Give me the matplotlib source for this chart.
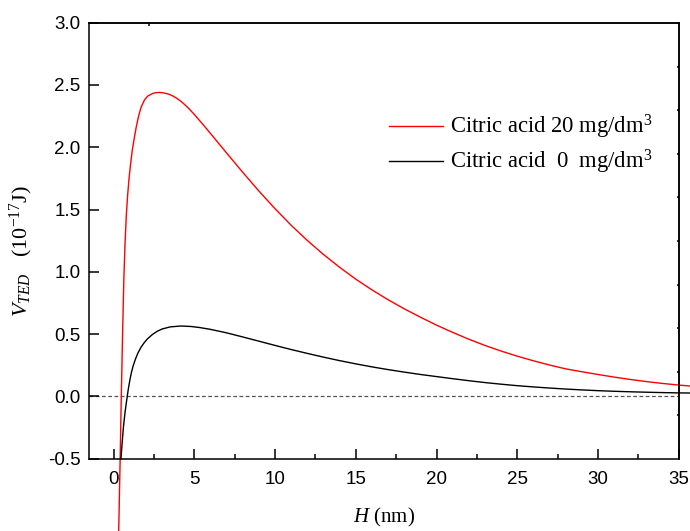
import numpy as np
import matplotlib
matplotlib.use("Agg")
import matplotlib.pyplot as plt
from matplotlib.ticker import MultipleLocator, FormatStrFormatter

plt.rcParams['mathtext.fontset'] = 'custom'
plt.rcParams['mathtext.rm'] = 'Liberation Serif'
plt.rcParams['mathtext.it'] = 'Liberation Serif:italic'

# 読み取ったデータ (H nm, V 10^-17 J)
h_20 = [0.31, 0.40, 0.47, 0.55, 0.63, 0.70, 0.78, 0.86, 0.95, 1.05, 1.15, 1.25,
        1.40, 1.55, 1.70, 1.90, 2.10, 2.40, 2.60, 2.83, 3.0, 3.3, 3.5, 3.7, 3.9,
        4.1, 4.3, 4.5, 4.75, 5.0, 5.5, 6, 7, 8, 9, 10, 11, 12, 13, 14, 15, 16,
        17, 18, 19, 20, 21, 22, 23, 24, 25, 26, 27, 28, 29, 30, 31, 32, 33, 34,
        35, 35.75]
v_20 = [-1.08, -0.50, 0.00, 0.50, 0.95, 1.22, 1.45, 1.61, 1.75, 1.87, 1.975, 2.055,
        2.165, 2.255, 2.322, 2.378, 2.41, 2.431, 2.438, 2.44, 2.438, 2.4305, 2.4215,
        2.409, 2.3935, 2.375, 2.354, 2.330, 2.2975, 2.2625, 2.1875, 2.11, 1.953,
        1.798, 1.648, 1.506, 1.373, 1.251, 1.139, 1.036, 0.941, 0.855, 0.776, 0.703,
        0.636, 0.572, 0.514, 0.459, 0.409, 0.364, 0.323, 0.286, 0.252, 0.221, 0.198,
        0.176, 0.155, 0.136, 0.119, 0.104, 0.091, 0.083]

h_0 = [0.45, 0.52, 0.60, 0.70, 0.80, 0.90, 1.00, 1.10, 1.20, 1.35, 1.50, 1.70,
       1.90, 2.10, 2.40, 2.70, 3.00, 3.50, 4.17, 4.80, 5.31, 6, 7, 8, 9, 10, 11,
       12, 13, 14, 15, 16, 17, 18, 19, 20, 21, 22, 23, 24, 25, 26, 27, 28, 29,
       30, 31, 32, 33, 34, 35, 35.75]
v_0 = [-0.50, -0.38, -0.25, -0.13, -0.035, 0.055, 0.13, 0.193, 0.243, 0.30, 0.348,
       0.396, 0.433, 0.463, 0.497, 0.523, 0.541, 0.558, 0.565, 0.561, 0.553, 0.538,
       0.51, 0.477, 0.443, 0.409, 0.376, 0.345, 0.315, 0.287, 0.261, 0.237, 0.215,
       0.195, 0.176, 0.159, 0.142, 0.126, 0.111, 0.098, 0.086, 0.076, 0.067, 0.059,
       0.052, 0.046, 0.041, 0.037, 0.0335, 0.0305, 0.028, 0.027]

labels = ["Citric acid 20 mg/dm$^3$", "Citric acid  0  mg/dm$^3$"]

fig = plt.figure(figsize=(6.9, 5.31), dpi=100)
ax = fig.add_axes([0.129, 0.1362, 0.8545, 0.8211])

ax.axhline(0, color='#555555', lw=0.9, ls=(0, (3, 2)), zorder=1)
ax.plot(h_20, v_20, color='red', lw=1.0, clip_on=False, label=labels[0])
ax.plot(h_0, v_0, color='black', lw=1.0, clip_on=False, label=labels[1])

ax.set_xlim(-1.53, 35)
ax.set_ylim(-0.5, 3.0)
ax.xaxis.set_major_locator(MultipleLocator(5))
ax.xaxis.set_minor_locator(MultipleLocator(2.5))
ax.yaxis.set_major_locator(MultipleLocator(0.5))
ax.yaxis.set_major_formatter(FormatStrFormatter('%.1f'))

for s in ax.spines.values():
    s.set_linewidth(1.1)

ax.tick_params(which='major', direction='in', length=7, width=1.1, pad=6,
               labelsize=13.5, labelfontfamily='Liberation Sans')
ax.tick_params(axis='x', which='major', pad=9)
ax.tick_params(which='minor', direction='in', length=3.5, width=1.1)
ax.tick_params(axis='y', which='minor', left=False)
ax.tick_params(which='both', top=False, right=False)

# 右・上の小さい目盛
sec_r = ax.secondary_yaxis('right')
sec_r.set_yticks([0.198 + 0.35 * k for k in range(-1, 8)])
sec_r.tick_params(direction='in', length=1.8, width=1.1, labelright=False)
sec_r.spines['right'].set_linewidth(1.1)
sec_t = ax.secondary_xaxis('top')
sec_t.set_xticks([2.2])
sec_t.tick_params(direction='in', length=1.8, width=1.1, labeltop=False)
sec_t.spines['top'].set_linewidth(1.1)

ax.set_xlabel("$H$ (nm)", family='Liberation Serif', fontsize=15, labelpad=13)
ax.set_ylabel("$V_{TED}$   (10$^{-17}$J)", family='Liberation Serif', fontsize=16)
ax.yaxis.set_label_coords(-0.092, 0.476)

ax.legend(loc='center left', bbox_to_anchor=(0.509, 0.7206), frameon=False,
          prop={'family': 'Liberation Serif', 'size': 16.3}, handlelength=2.4,
          handletextpad=0.3, labelspacing=0.3, borderpad=0, borderaxespad=0)

fig.savefig("out.png", dpi=100)
